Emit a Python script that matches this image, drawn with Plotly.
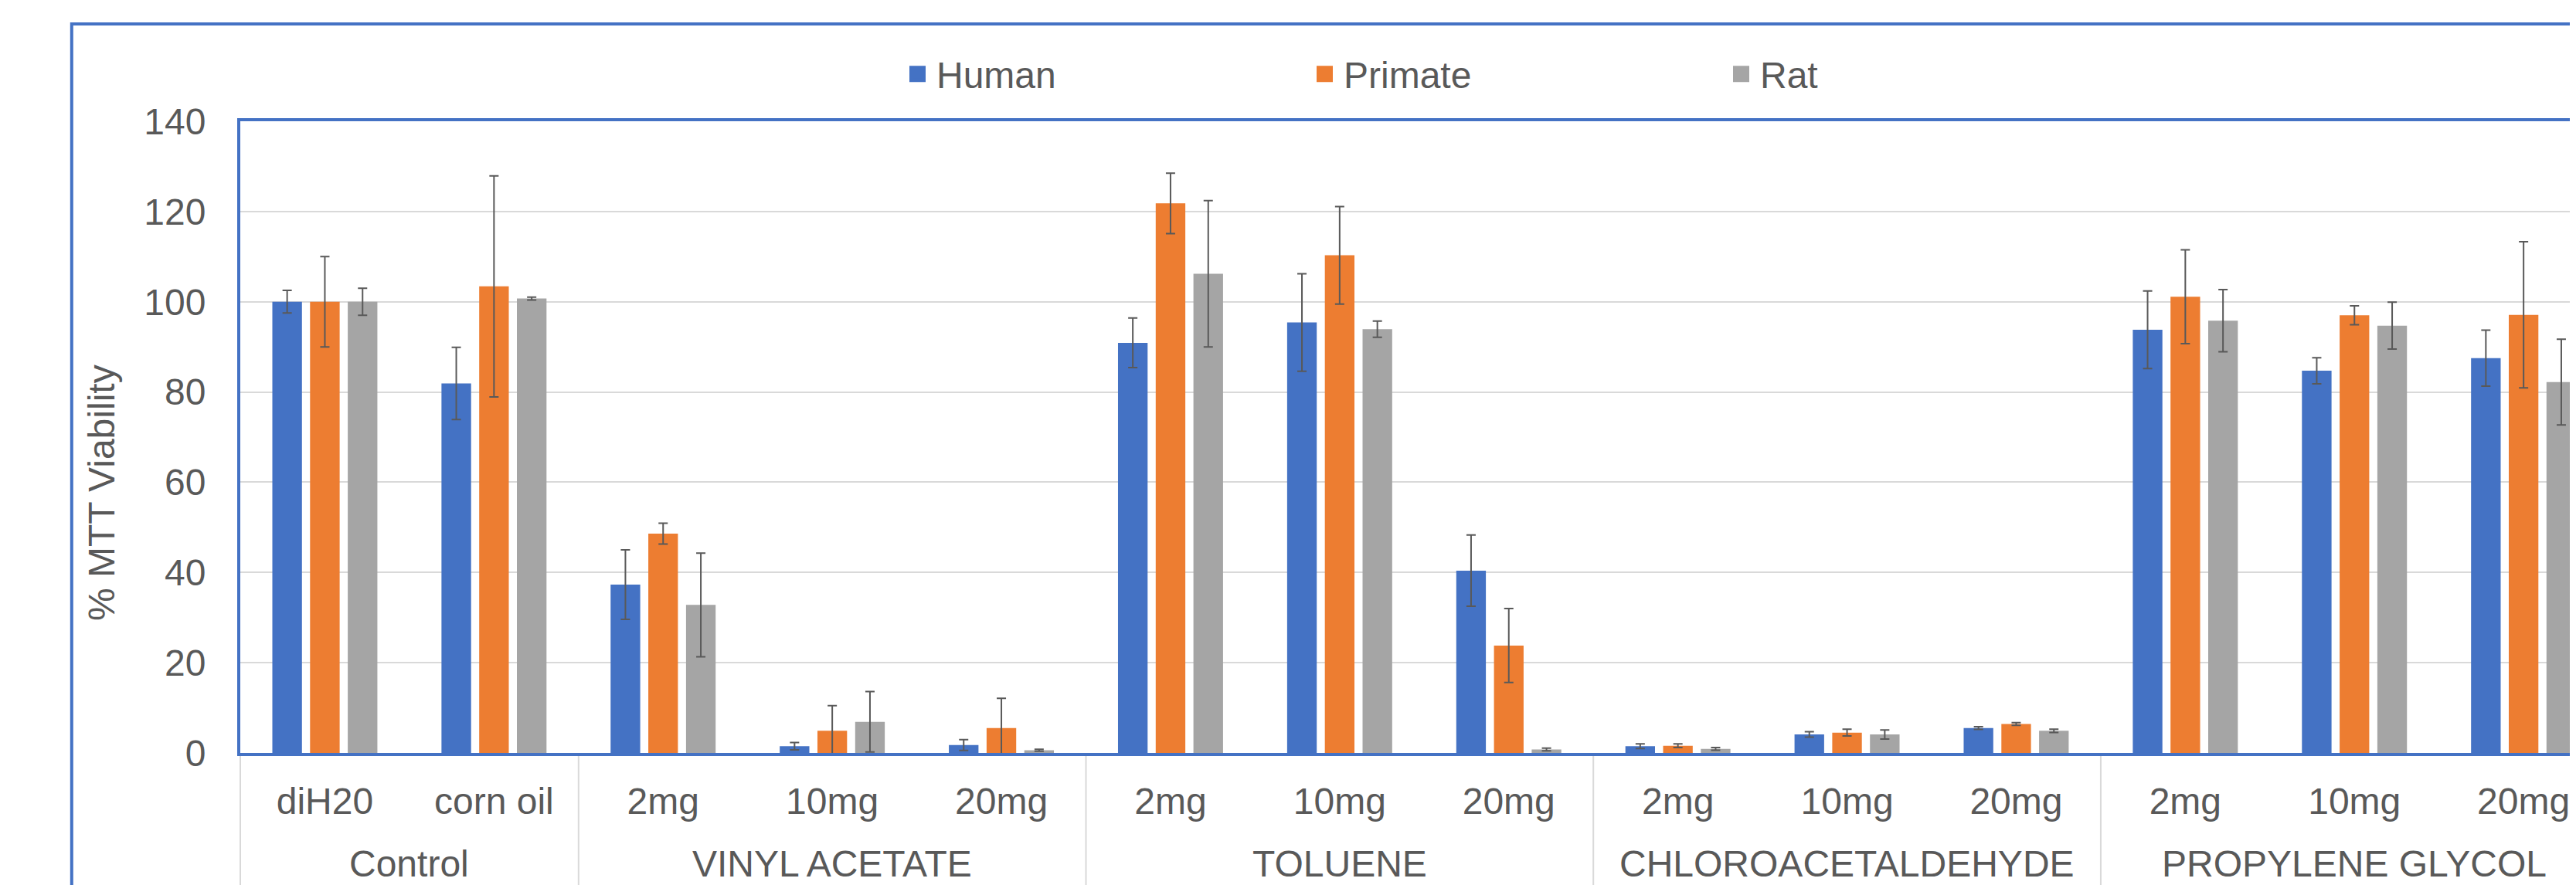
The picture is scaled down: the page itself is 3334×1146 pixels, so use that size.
import plotly.graph_objects as go

# ---------------- data ----------------
groups = ["Control", "VINYL ACETATE", "TOLUENE", "CHLOROACETALDEHYDE", "PROPYLENE GLYCOL"]
group_sizes = [2, 3, 3, 3, 3]
doses = ["diH20", "corn oil",
         "2mg", "10mg", "20mg",
         "2mg", "10mg", "20mg",
         "2mg", "10mg", "20mg",
         "2mg", "10mg", "20mg"]

series_names = ["Human", "Primate", "Rat"]
human = [100.0, 81.9, 37.3, 1.5, 1.75, 90.9, 95.4, 40.4, 1.5, 4.1, 5.5, 93.8, 84.7, 87.5]
human_err = [2.5, 8.0, 7.7, 0.8, 1.2, 5.5, 10.8, 7.9, 0.5, 0.6, 0.3, 8.6, 2.9, 6.2]
primate = [100.0, 103.4, 48.6, 4.9, 5.5, 121.8, 110.3, 23.8, 1.6, 4.5, 6.4, 101.1, 97.0, 97.1]
primate_err = [10.0, 24.5, 2.3, 5.6, 6.6, 6.7, 10.8, 8.2, 0.4, 0.75, 0.3, 10.4, 2.1, 16.2]
rat = [100.0, 100.7, 32.8, 6.9, 0.6, 106.2, 93.9, 0.75, 0.9, 4.1, 4.9, 95.8, 94.7, 82.2]
rat_err = [3.0, 0.3, 11.5, 6.7, 0.2, 16.2, 1.8, 0.3, 0.3, 1.0, 0.35, 6.9, 5.2, 9.5]

y_title = "% MTT Viability"
y_ticks = [0, 20, 40, 60, 80, 100, 120, 140]

# ---------------- style / layout constants ----------------
colors = ["#4472C4", "#ED7D31", "#A5A5A5"]
text_color = "#595959"
font_family = "Liberation Sans, Arial, sans-serif"
fs = 48

OFF = 8            # default page margin of the html body
W, H = 3334, 1146
L = 311 - OFF      # plot left edge (screen 311)
T = 157 - OFF      # plot top edge (screen 157)
BOTTOM = 975 - OFF # plot bottom edge (screen 975)
B = H - BOTTOM
R = 0
plot_w = W - L - R
plot_h = H - T - B
cat_w = 218.9
x_lo = -0.5
x_hi = x_lo + plot_w / cat_w


def px_to_paper_x(px):
    """screen pixel x -> paper coordinate"""
    return (px - OFF - L) / plot_w


def px_to_paper_y(py):
    """screen pixel y -> paper coordinate"""
    return (BOTTOM - (py - OFF)) / plot_h


def data_to_paper_x(xv):
    return (xv - x_lo) / (x_hi - x_lo)


xpos = list(range(len(doses)))
series_vals = [human, primate, rat]
series_errs = [human_err, primate_err, rat_err]

fig = go.Figure()

for name, vals, errs, col in zip(series_names, series_vals, series_errs, colors):
    fig.add_trace(go.Bar(
        x=xpos, y=vals, name=name,
        marker=dict(color=col, line=dict(width=0)),
        error_y=dict(type="data", array=errs, visible=True,
                     color="#595959", thickness=2, width=6),
        showlegend=False,
    ))

# legend entries (one legend per series, for Excel-like spacing)
legend_ids = ["legend", "legend2", "legend3"]
legend_centers_px = [1187.5, 1714.5, 2253.5]
item_w = 39
for name, col, lid in zip(series_names, colors, legend_ids):
    fig.add_trace(go.Scatter(
        x=[None], y=[None], mode="markers", name=name,
        marker=dict(symbol="square", size=16, color=col,
                    line=dict(color=col, width=5)),
        legend=lid, showlegend=True, hoverinfo="skip",
    ))

legend_common = dict(
    orientation="h", xref="container", yref="container",
    xanchor="left", yanchor="middle", y=1 - (96 - OFF) / H,
    font=dict(family=font_family, size=fs, color=text_color),
    bgcolor="rgba(0,0,0,0)", borderwidth=0, itemwidth=item_w,
)
layout_legends = {}
for lid, cx in zip(legend_ids, legend_centers_px):
    d = dict(legend_common)
    d["x"] = (cx - OFF - (item_w + 10) / 2) / W
    layout_legends[lid] = d

# group labels and dividers
annotations = []
shapes = []
start = 0
bounds = [-0.5]
for g, n in zip(groups, group_sizes):
    center = start + (n - 1) / 2
    annotations.append(dict(
        x=center, xref="x", y=px_to_paper_y(1118), yref="paper",
        text=g, showarrow=False, xanchor="center", yanchor="middle",
        font=dict(family=font_family, size=fs, color=text_color),
    ))
    start += n
    bounds.append(start - 0.5)

for b in bounds:
    xp = data_to_paper_x(b)
    shapes.append(dict(
        type="line", xref="paper", yref="paper",
        x0=xp, x1=xp, y0=px_to_paper_y(979), y1=px_to_paper_y(H + 60),
        line=dict(color="#D9D9D9", width=2), layer="below",
    ))

# y axis title
annotations.append(dict(
    x=px_to_paper_x(131), xref="paper", y=px_to_paper_y(638), yref="paper",
    text=y_title, textangle=-90, showarrow=False,
    xanchor="center", yanchor="middle",
    font=dict(family=font_family, size=fs, color=text_color),
))

# outer chart border
shapes.append(dict(
    type="rect", xref="paper", yref="paper",
    x0=px_to_paper_x(92.8), x1=px_to_paper_x(W + 100),
    y0=px_to_paper_y(H + 100), y1=px_to_paper_y(31),
    line=dict(color="#4472C4", width=4), fillcolor="rgba(0,0,0,0)",
    layer="above",
))

fig.update_layout(
    width=W, height=H,
    margin=dict(l=L, r=R, t=T, b=B, pad=0, autoexpand=False),
    paper_bgcolor="white", plot_bgcolor="white",
    barmode="group", bargap=0.331, bargroupgap=0.215,
    font=dict(family=font_family, size=fs, color=text_color),
    annotations=annotations, shapes=shapes,
    xaxis=dict(
        range=[x_lo, x_hi], tickmode="array", tickvals=xpos, ticktext=doses,
        showgrid=False, zeroline=False, ticks="",
        showline=True, mirror=True, linecolor="#4472C4", linewidth=4,
        tickfont=dict(family=font_family, size=fs, color=text_color),
        ticklabelstandoff=17, automargin=False, fixedrange=True,
    ),
    yaxis=dict(
        range=[0, 140], tickmode="array", tickvals=y_ticks,
        showgrid=True, gridcolor="#D9D9D9", gridwidth=2,
        zeroline=False, ticks="",
        showline=True, linecolor="#4472C4", linewidth=4,
        tickfont=dict(family=font_family, size=fs, color=text_color),
        ticklabelstandoff=31, automargin=False, fixedrange=True,
    ),
    **layout_legends,
)

fig.write_html("out.html")
